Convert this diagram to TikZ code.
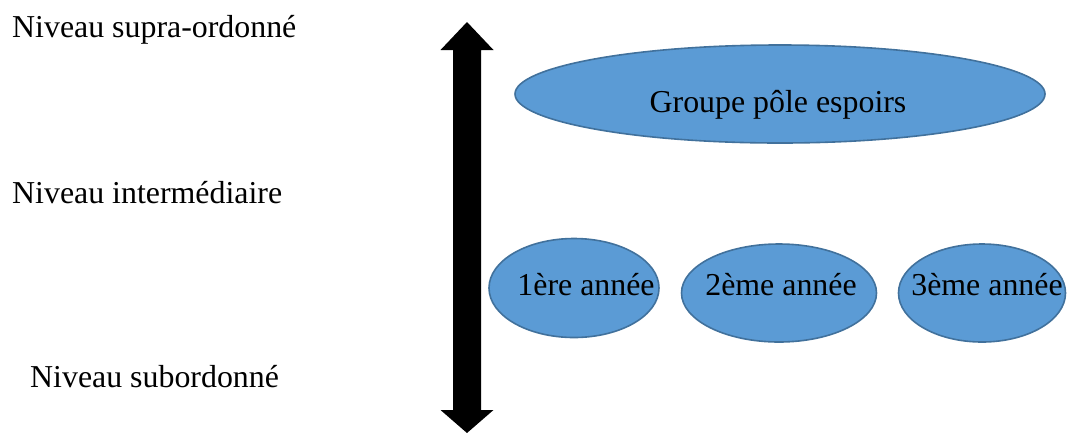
\documentclass[tikz,border=0pt]{standalone}
\usepackage{fontspec}
\setmainfont{Liberation Serif}
\usetikzlibrary{shapes.geometric}
\definecolor{obFill}{HTML}{5B9BD5}
\definecolor{obLine}{HTML}{41719C}
\begin{document}
\begin{tikzpicture}[x=1bp,y=-1bp,
  oval/.style={ellipse,draw=obLine,fill=obFill,line width=1.6bp,inner sep=0pt},
  lbl/.style={anchor=base west,inner sep=0pt,font=\fontsize{32}{38}\selectfont},
  otext/.style={anchor=base,inner sep=0pt,font=\fontsize{32}{38}\selectfont}]
\useasboundingbox (0,0) rectangle (1069,432);
% vertical double arrow
\fill[black] (467,22) -- (493.5,50) -- (481,50) -- (481,410) -- (493.5,410) -- (467,433)
  -- (440.5,410) -- (453,410) -- (453,50) -- (440.5,50) -- cycle;
% level labels
\node[lbl] (l1) at (12,37) {Niveau supra-ordonné};
\node[lbl] (l2) at (12,203) {Niveau intermédiaire};
\node[lbl] (l3) at (30,387) {Niveau subordonné};
% ellipses
\node[oval,minimum width=530bp,minimum height=98bp] (g) at (780,94) {};
\node[otext] (gt) at (778,112) {Groupe pôle espoirs};
\node[oval,minimum width=170bp,minimum height=99bp] (a1) at (574,288) {};
\node[otext] (a1t) at (586,295) {1ère année};
\node[oval,minimum width=195bp,minimum height=98bp] (a2) at (779,293) {};
\node[otext] (a2t) at (781,295) {2ème année};
\node[oval,minimum width=167bp,minimum height=98bp] (a3) at (982,293) {};
\node[otext] (a3t) at (987,295) {3ème année};
\end{tikzpicture}
\end{document}
